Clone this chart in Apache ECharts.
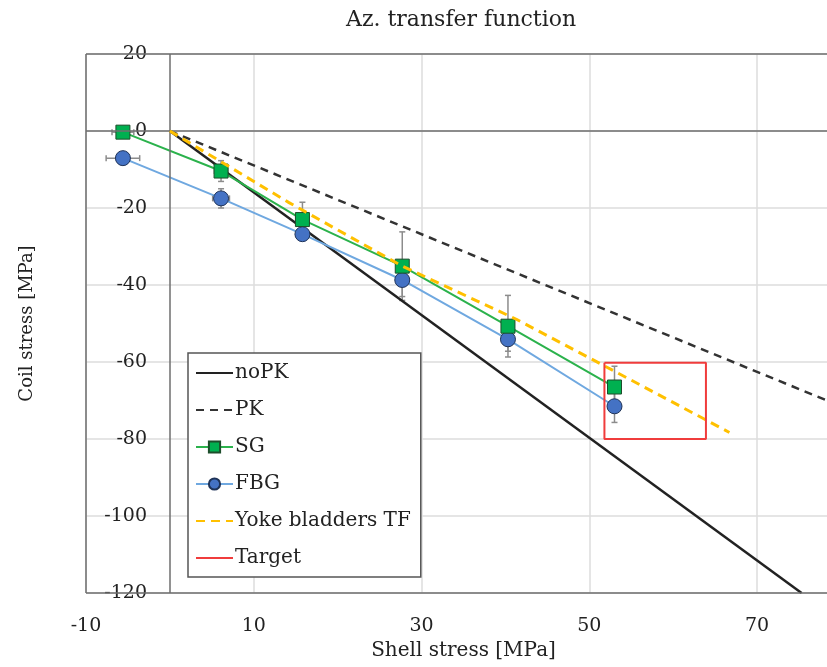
<!DOCTYPE html>
<html>
<head>
<meta charset="utf-8">
<script src="https://cdn.jsdelivr.net/npm/echarts@6/dist/echarts.min.js"></script>
<style>html,body{margin:0;padding:0;background:#fff}#c{width:827px;height:667px}</style>
</head>
<body>
<div id="c"></div>
<script>
const titleText = 'Az. transfer function';
const xName = 'Shell stress [MPa]';
const yName = 'Coil stress [MPa]';
const legendNames = ['noPK', 'PK', 'SG', 'FBG', 'Yoke bladders TF', 'Target'];

const noPK = [[0, 0], [75.3, -120]];
const PK = [[0, 0], [80, -71.5]];
const yokeX = [0, 14.2, 27.7, 41.3, 53.0, 66.7];
const yokeY = [0, -18.6, -35.1, -48.9, -62.4, -78.3];
const targetX = [51.8, 63.9, 63.9, 51.8, 51.8];
const targetY = [-60.2, -60.2, -80.0, -80.0, -60.2];

const measX = [-5.6, 6.1, 15.8, 27.7, 40.3, 53.0];
const sgY = [-0.3, -10.4, -23.0, -35.1, -50.7, -66.5];
const sgErrY = [0.8, 2.7, 4.5, 8.9, 8.0, 5.4];
const sgErrX = [1.3, 0.8, 0.8, 0.5, 0.5, 0.7];
const fbgY = [-7.05, -17.5, -26.8, -38.7, -54.1, -71.5];
const fbgErrY = [1.0, 2.5, 1.5, 4.3, 3.1, 4.2];
const fbgErrX = [2.0, 1.0, 0.6, 0.5, 0.5, 0.7];

const xMin = -10, xMax = 80, yMin = -120, yMax = 20;

const FONT = 'DejaVu Serif';
const zip = (xs, ys) => xs.map((x, i) => [x, ys[i]]);

const errData = [];
measX.forEach((x, i) => {
  errData.push([x, sgY[i], sgErrX[i], sgErrY[i]]);
  errData.push([x, fbgY[i], fbgErrX[i], fbgErrY[i]]);
});

function renderErr(params, api) {
  const x = api.value(0), y = api.value(1), ex = api.value(2), ey = api.value(3);
  const top = api.coord([x, y + ey]);
  const bot = api.coord([x, y - ey]);
  const lft = api.coord([x - ex, y]);
  const rgt = api.coord([x + ex, y]);
  const cap = 3;
  const st = { stroke: '#8c8c8c', lineWidth: 1.5 };
  return {
    type: 'group',
    children: [
      { type: 'line', shape: { x1: top[0], y1: top[1], x2: bot[0], y2: bot[1] }, style: st },
      { type: 'line', shape: { x1: top[0] - cap, y1: top[1], x2: top[0] + cap, y2: top[1] }, style: st },
      { type: 'line', shape: { x1: bot[0] - cap, y1: bot[1], x2: bot[0] + cap, y2: bot[1] }, style: st },
      { type: 'line', shape: { x1: lft[0], y1: lft[1], x2: rgt[0], y2: rgt[1] }, style: st },
      { type: 'line', shape: { x1: lft[0], y1: lft[1] - cap, x2: lft[0], y2: lft[1] + cap }, style: st },
      { type: 'line', shape: { x1: rgt[0], y1: rgt[1] - cap, x2: rgt[0], y2: rgt[1] + cap }, style: st }
    ]
  };
}

const noDot = { opacity: 0 };
const chart = echarts.init(document.getElementById('c'), null, { renderer: 'canvas' });
chart.setOption({
  animation: false,
  backgroundColor: '#fff',
  textStyle: { fontFamily: FONT },
  title: {
    text: titleText, left: 341, top: 4,
    textStyle: { fontFamily: FONT, fontSize: 22, fontWeight: 'normal', color: '#222' }
  },
  grid: {
    left: 86, top: 54, bottom: 74, right: -14,
    outerBoundsMode: 'none', containLabel: false,
    show: false
  },
  legend: {
    data: [
      { name: 'noPK', itemStyle: noDot },
      { name: 'PK', itemStyle: noDot },
      { name: 'SG' },
      { name: 'FBG' },
      { name: 'Yoke bladders TF', itemStyle: noDot },
      { name: 'Target', itemStyle: noDot }
    ],
    orient: 'vertical', left: 188, top: 353,
    itemWidth: 37, itemHeight: 14, itemGap: 15,
    padding: [9, 10, 8, 7],
    borderColor: '#555', borderWidth: 1.5, backgroundColor: '#fff',
    textStyle: { fontFamily: FONT, fontSize: 20, color: '#222', lineHeight: 22, padding: [0, 0, 0, -3] }
  },
  xAxis: {
    type: 'value', min: xMin, max: xMax, interval: 20,
    name: xName, nameLocation: 'middle', nameGap: 47,
    nameTextStyle: { fontFamily: FONT, fontSize: 20, color: '#222' },
    axisLine: { show: false, onZero: false },
    axisTick: { show: false },
    axisLabel: { fontFamily: FONT, fontSize: 19, color: '#222', margin: 24, showMaxLabel: false },
    splitLine: { show: true, lineStyle: { color: '#dcdcdc', width: 1.5 } }
  },
  yAxis: {
    type: 'value', min: yMin, max: yMax, interval: 20,
    name: yName, nameLocation: 'middle', nameGap: 50,
    nameTextStyle: { fontFamily: FONT, fontSize: 18, color: '#222' },
    axisLine: { show: false, onZero: false },
    axisTick: { show: false },
    axisLabel: { fontFamily: FONT, fontSize: 19, color: '#222', margin: -61, align: 'right' },
    splitLine: { show: true, lineStyle: { color: '#dcdcdc', width: 1.5 } }
  },
  series: [
    {
      name: 'frameLines', type: 'line', data: [], silent: true,
      markLine: {
        silent: true, symbol: ['none', 'none'], label: { show: false },
        lineStyle: { color: '#6e6e6e', width: 1.5, type: 'solid' },
        data: [{ xAxis: 0 }, { yAxis: 0 }, { xAxis: xMin }, { yAxis: yMin }, { yAxis: yMax }]
      }
    },
    {
      name: 'err', type: 'custom', renderItem: renderErr, data: errData, z: 1, silent: true
    },
    {
      name: 'noPK', type: 'line', data: noPK, showSymbol: false, symbol: 'none',
      lineStyle: { color: '#222', width: 2.5 }, itemStyle: { color: '#222' }, z: 2
    },
    {
      name: 'PK', type: 'line', data: PK, showSymbol: false, symbol: 'none',
      lineStyle: { color: '#333', width: 2.5, type: [8, 6] }, itemStyle: { color: '#333' }, z: 2
    },
    {
      name: 'SG', type: 'line', data: zip(measX, sgY), symbol: 'rect', symbolSize: 14,
      lineStyle: { color: '#2bb24c', width: 2 },
      itemStyle: { color: '#00b050', borderColor: '#1d4d2b', borderWidth: 1 }, z: 4
    },
    {
      name: 'FBG', type: 'line', data: zip(measX, fbgY), symbol: 'circle', symbolSize: 15,
      lineStyle: { color: '#6fa8e0', width: 2 },
      itemStyle: { color: '#4472c4', borderColor: '#1f3358', borderWidth: 1 }, z: 3
    },
    {
      name: 'Yoke bladders TF', type: 'line', data: zip(yokeX, yokeY), showSymbol: false, symbol: 'none',
      lineStyle: { color: '#ffc000', width: 3, type: [9, 6] }, itemStyle: { color: '#ffc000' }, z: 5
    },
    {
      name: 'Target', type: 'line', data: zip(targetX, targetY), showSymbol: false, symbol: 'none',
      lineStyle: { color: '#f03c3c', width: 2 }, itemStyle: { color: '#f03c3c' }, z: 5
    }
  ]
});
</script>
</body>
</html>
